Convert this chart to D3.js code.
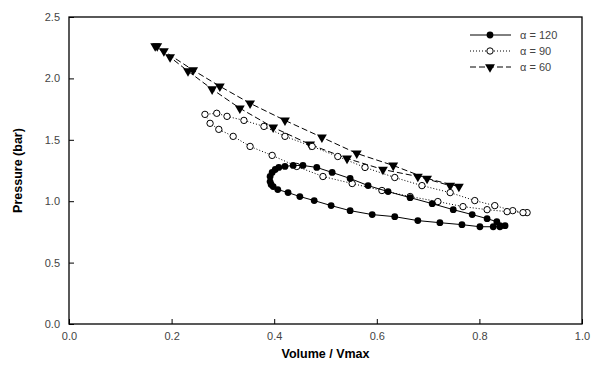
<!DOCTYPE html>
<html>
<head>
<meta charset="utf-8">
<script src="https://cdn.jsdelivr.net/npm/d3@7"></script>
<style>
  body { margin: 0; background: #fff; }
  svg text { font-family: "Liberation Sans", Arial, sans-serif; }
</style>
</head>
<body>
<svg id="svg" width="592" height="371"></svg>
<script>
// tick labels
const xTicks = [0.0, 0.2, 0.4, 0.6, 0.8, 1.0];
const yTicks = [0.0, 0.5, 1.0, 1.5, 2.0, 2.5];

// alpha = 120 : volume / pressure (loop)
const v120 = [0.840, 0.834, 0.815, 0.786, 0.749, 0.708, 0.665, 0.622, 0.583, 0.548, 0.513, 0.483, 0.456, 0.437, 0.421, 0.409, 0.402, 0.396, 0.392, 0.392, 0.394, 0.398, 0.407, 0.427, 0.450, 0.478, 0.511, 0.548, 0.591, 0.635, 0.680, 0.723, 0.766, 0.801, 0.827, 0.840, 0.850];
const p120 = [0.801, 0.833, 0.858, 0.891, 0.931, 0.980, 1.029, 1.078, 1.127, 1.185, 1.234, 1.275, 1.291, 1.291, 1.283, 1.275, 1.258, 1.234, 1.201, 1.160, 1.136, 1.119, 1.095, 1.070, 1.038, 1.005, 0.964, 0.923, 0.891, 0.874, 0.842, 0.825, 0.809, 0.792, 0.792, 0.792, 0.801];

// alpha = 90
const v90 = [0.893, 0.865, 0.830, 0.791, 0.743, 0.688, 0.635, 0.577, 0.524, 0.474, 0.421, 0.380, 0.341, 0.308, 0.288, 0.265, 0.275, 0.292, 0.320, 0.353, 0.396, 0.444, 0.495, 0.552, 0.610, 0.665, 0.719, 0.768, 0.815, 0.854, 0.885];
const p90 = [0.907, 0.923, 0.964, 1.005, 1.070, 1.127, 1.193, 1.275, 1.364, 1.446, 1.528, 1.609, 1.658, 1.691, 1.716, 1.707, 1.634, 1.585, 1.528, 1.446, 1.373, 1.283, 1.201, 1.144, 1.087, 1.038, 0.997, 0.956, 0.931, 0.915, 0.907];

// alpha = 60
const v60 = [0.760, 0.698, 0.632, 0.561, 0.493, 0.421, 0.353, 0.294, 0.242, 0.185, 0.172, 0.168, 0.197, 0.232, 0.279, 0.333, 0.398, 0.470, 0.542, 0.612, 0.680, 0.743];
const p60 = [1.119, 1.185, 1.291, 1.389, 1.520, 1.658, 1.797, 1.936, 2.067, 2.222, 2.263, 2.263, 2.173, 2.059, 1.912, 1.757, 1.601, 1.462, 1.348, 1.258, 1.201, 1.127];

const seriesNames = ['\u03b1 = 120', '\u03b1 = 90', '\u03b1 = 60'];

const margin = { top: 17, right: 10, bottom: 47, left: 69 };
const width = 592 - margin.left - margin.right;
const height = 371 - margin.top - margin.bottom;

const svg = d3.select('#svg');
const g = svg.append('g').attr('transform', `translate(${margin.left},${margin.top})`);

const x = d3.scaleLinear().domain([0, 1]).range([0, width]);
const y = d3.scaleLinear().domain([0, 2.5]).range([height, 0]);

// frame
g.append('rect')
  .attr('width', width).attr('height', height)
  .attr('fill', 'none').attr('stroke', '#000').attr('stroke-width', 1.3);

const xAxis = d3.axisBottom(x).tickValues(xTicks).tickFormat(d3.format('.1f'))
  .tickSizeInner(-5).tickSizeOuter(0).tickPadding(8);
const yAxis = d3.axisLeft(y).tickValues(yTicks).tickFormat(d3.format('.1f'))
  .tickSizeInner(-5).tickSizeOuter(0).tickPadding(9);

g.append('g').attr('transform', `translate(0,${height})`).call(xAxis)
  .call(s => s.select('.domain').remove())
  .call(s => s.selectAll('text').attr('font-size', 11).attr('fill', '#444'));
g.append('g').call(yAxis)
  .call(s => s.select('.domain').remove())
  .call(s => s.selectAll('text').attr('font-size', 11).attr('fill', '#444'));

// axis titles
svg.append('text')
  .attr('x', margin.left + width / 2).attr('y', 358)
  .attr('text-anchor', 'middle').attr('font-size', 12.5).attr('font-weight', 'bold')
  .text('Volume / Vmax');
svg.append('text')
  .attr('transform', `translate(22,${margin.top + height / 2}) rotate(-90)`)
  .attr('text-anchor', 'middle').attr('font-size', 12.5).attr('font-weight', 'bold')
  .text('Pressure (bar)');

const line = d3.line().x(d => x(d[0])).y(d => y(d[1]));
const tri = d3.symbol().type(d3.symbolTriangle).size(42);

function drawSeries(vs, ps, dash, marker) {
  const pts = vs.map((v, i) => [v, ps[i]]);
  g.append('path').datum(pts).attr('d', line)
    .attr('fill', 'none').attr('stroke', '#000').attr('stroke-width', 1)
    .attr('stroke-dasharray', dash);
  const m = g.append('g');
  pts.forEach(p => addMarker(m, x(p[0]), y(p[1]), marker));
}

function addMarker(sel, cx, cy, marker) {
  if (marker === 'filled') {
    sel.append('circle').attr('cx', cx).attr('cy', cy).attr('r', 3.4).attr('fill', '#000');
  } else if (marker === 'open') {
    sel.append('circle').attr('cx', cx).attr('cy', cy).attr('r', 3.2)
      .attr('fill', '#fff').attr('stroke', '#000').attr('stroke-width', 1);
  } else {
    sel.append('path').attr('d', tri)
      .attr('transform', `translate(${cx},${cy}) rotate(180)`).attr('fill', '#000');
  }
}

drawSeries(v60, p60, '6,3', 'tri');
drawSeries(v90, p90, '1,2', 'open');
drawSeries(v120, p120, null, 'filled');

// legend
const legend = [
  { name: seriesNames[0], dash: null, marker: 'filled' },
  { name: seriesNames[1], dash: '1,2', marker: 'open' },
  { name: seriesNames[2], dash: '6,3', marker: 'tri' }
];
legend.forEach((d, i) => {
  const ly = 35 + i * 16;
  svg.append('line').attr('x1', 470).attr('x2', 511).attr('y1', ly).attr('y2', ly)
    .attr('stroke', '#000').attr('stroke-width', 1).attr('stroke-dasharray', d.dash);
  addMarker(svg, 490, ly, d.marker);
  svg.append('text').attr('x', 520).attr('y', ly + 4)
    .attr('font-size', 11).attr('fill', '#444').text(d.name);
});
</script>
</body>
</html>
